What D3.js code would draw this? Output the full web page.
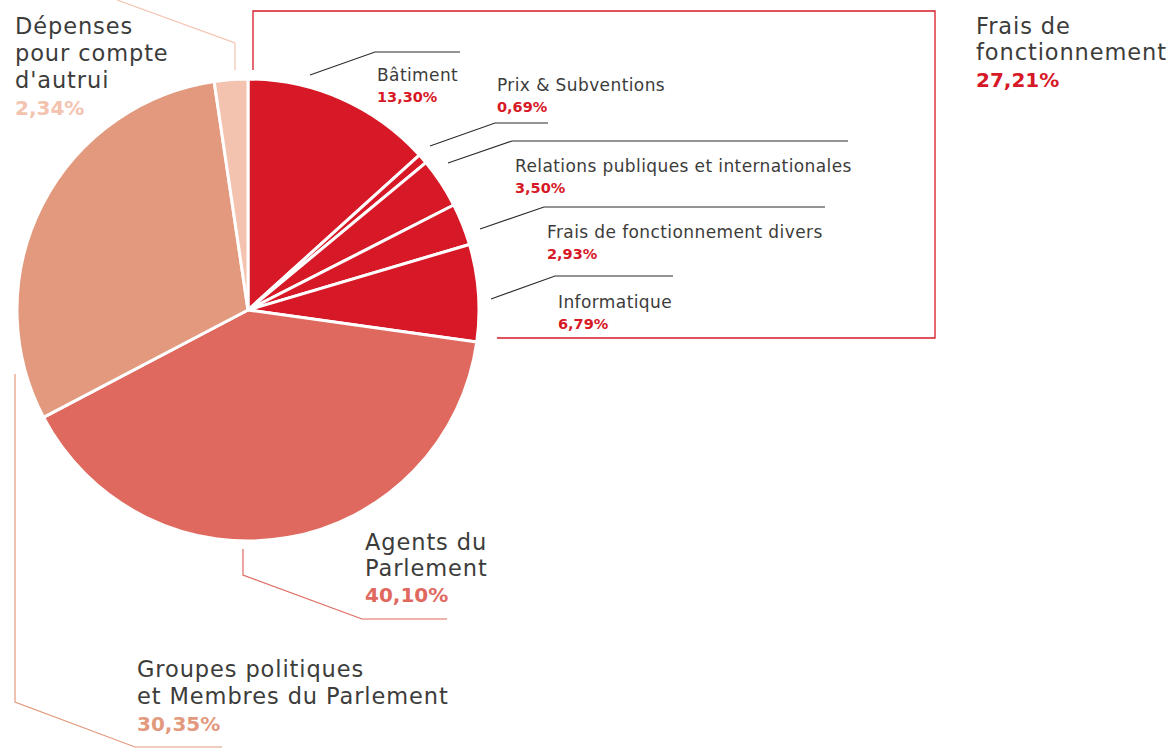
<!DOCTYPE html>
<html><head><meta charset="utf-8">
<script src="https://cdn.jsdelivr.net/npm/d3@7"></script>
<style>html,body{margin:0;padding:0;background:#fff;} svg{display:block;}</style>
</head><body>
<script>
// ---- data ----
const categories = ["Bâtiment","Prix & Subventions","Relations publiques et internationales","Frais de fonctionnement divers","Informatique","Agents du Parlement","Groupes politiques et Membres du Parlement","Dépenses pour compte d'autrui"];
const values = [13.30, 0.69, 3.50, 2.93, 6.79, 40.10, 30.35, 2.34];
const groupLabel = ["Frais de","fonctionnement"];
const groupValue = 27.21;

// ---- styles / layout ----
const W = 1170, H = 749;
const colors = ["#d71927","#d71927","#d71927","#d71927","#d71927","#df695f","#e3997e","#f3c3b0"];
const cx = 248, cy = 310, R = 231;
const FONT = "'DejaVu Sans', sans-serif";
const textCol = "#3c3c3b";
const fmt = v => d3.format(".2f")(v).replace(".", ",") + "%";

const svg = d3.select("body").append("svg").attr("width", W).attr("height", H);

const pie = d3.pie().value(d => d).sort(null);
const arc = d3.arc().innerRadius(0).outerRadius(R);
const arcs = pie(values);

svg.append("g").attr("transform", `translate(${cx},${cy})`)
  .selectAll("path").data(arcs).enter().append("path")
  .attr("d", arc)
  .attr("fill", (d, i) => colors[i])
  .attr("stroke", "#fff").attr("stroke-width", 3).attr("stroke-linejoin", "round");

// small labels (inside the red box)
const smallLayout = [
  {lx:377, ly:81, lines:[[310,75],[375,52],[460,52]]},
  {lx:497, ly:91, lines:[[430,146],[495,123],[548,123]]},
  {lx:515, ly:172, lines:[[448,163],[512,141],[848,141]]},
  {lx:547, ly:238, lines:[[480,229],[544,207],[825,207]]},
  {lx:558, ly:308, lines:[[491,299],[555,276],[673,276]]}
];
const line = d3.line();
smallLayout.forEach((L, i) => {
  svg.append("path").attr("d", line(L.lines)).attr("fill","none")
    .attr("stroke", "#2b2b2b").attr("stroke-width", 1.1);
  svg.append("text").attr("font-family", FONT).attr("font-size", 17).attr("letter-spacing", 0.4)
    .attr("x", L.lx).attr("y", L.ly).attr("fill", textCol).text(categories[i]);
  svg.append("text").attr("font-family", FONT).attr("font-size", 14.5).attr("font-weight", 700)
    .attr("x", L.lx).attr("y", L.ly + 21).attr("fill", colors[i]).text(fmt(values[i]));
});

// red box around "frais de fonctionnement"
svg.append("path").attr("d", line([[253,70],[253,11],[935,11],[935,338],[497,338]]))
  .attr("fill","none").attr("stroke","#d71927").attr("stroke-width",1.3);

function bigLabel(x, y, lines, pct, col, lh) {
  lines.forEach((s, k) => svg.append("text").attr("font-family", FONT).attr("font-size", 22.5)
    .attr("letter-spacing", 0.9).attr("x", x).attr("y", y + k*lh).attr("fill", textCol).text(s));
  svg.append("text").attr("font-family", FONT).attr("font-size", 20).attr("font-weight", 700)
    .attr("x", x).attr("y", y + lines.length*lh).attr("fill", col).text(pct);
}
bigLabel(976, 34, groupLabel, fmt(groupValue), "#d71927", 26.3);
bigLabel(15, 34, ["Dépenses","pour compte","d'autrui"], fmt(values[7]), colors[7], 27);
bigLabel(365, 550, ["Agents du","Parlement"], fmt(values[5]), colors[5], 26);
bigLabel(137, 677, ["Groupes politiques","et Membres du Parlement"], fmt(values[6]), colors[6], 27);

// leader lines for big slices
svg.append("path").attr("d", line([[117,0],[235,43],[235,70]])).attr("fill","none")
  .attr("stroke", colors[7]).attr("stroke-width",1.2);
svg.append("path").attr("d", line([[243,549],[243,575],[362,619],[447,619]])).attr("fill","none")
  .attr("stroke", colors[5]).attr("stroke-width",1.2);
svg.append("path").attr("d", line([[15,374],[15,702],[135,747],[222,747]])).attr("fill","none")
  .attr("stroke", colors[6]).attr("stroke-width",1.2);
</script>
</body></html>
